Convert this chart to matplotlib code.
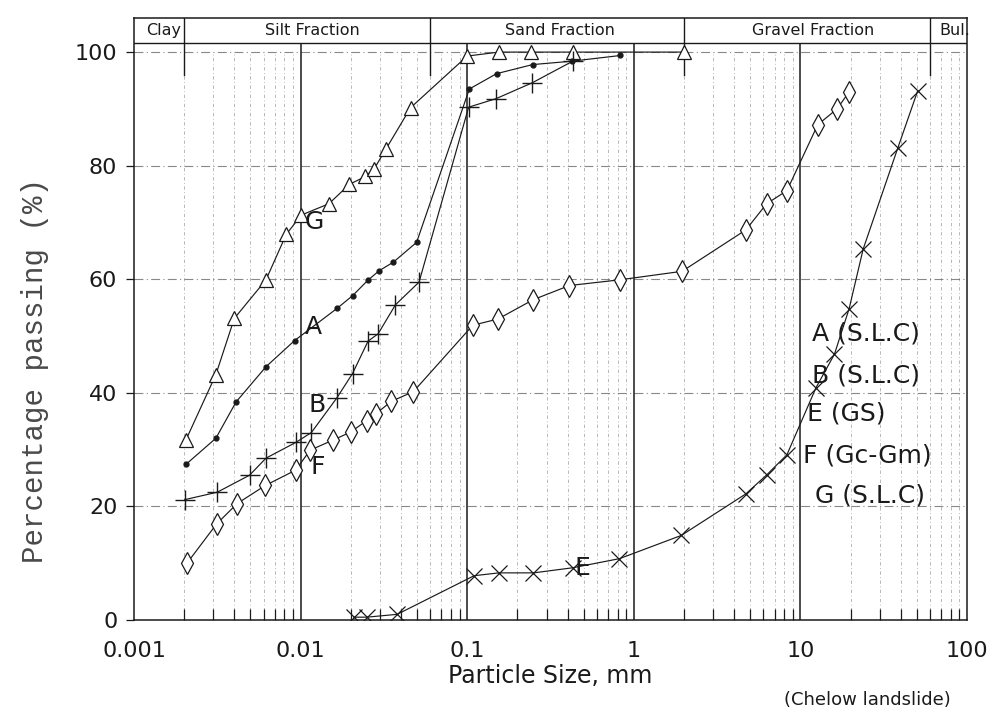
"""
Grain size distribution curves - Chelow landslide samples (A, B, E, F, G)
"""
import numpy as np
import matplotlib
matplotlib.use("Agg")
import matplotlib.pyplot as plt
from matplotlib.ticker import FixedLocator, NullFormatter

# ─── Data (particle size in mm, percentage passing) ─────────────────────────
g_size = [0.00205, 0.0031, 0.0040, 0.0062, 0.0082, 0.0101, 0.0148, 0.0196,
          0.0245, 0.0277, 0.0325, 0.0457, 0.100, 0.155, 0.24, 0.43, 2.0]
g_pass = [31.7, 43.2, 53.1, 59.9, 67.9, 71.3, 73.3, 76.7,
          78.1, 79.5, 82.9, 90.2, 99.3, 100, 100, 100, 100]

a_size = [0.00205, 0.0031, 0.0041, 0.0062, 0.0092, 0.0166, 0.0205, 0.0253,
          0.0296, 0.036, 0.0497, 0.103, 0.15, 0.247, 0.425, 0.83]
a_pass = [27.4, 32.0, 38.4, 44.6, 49.2, 54.9, 57.1, 59.8,
          61.5, 63.0, 66.5, 93.5, 96.2, 97.8, 98.4, 99.4]

b_size = [0.00202, 0.00316, 0.00494, 0.0062, 0.0094, 0.0116, 0.0165, 0.0205,
          0.0254, 0.0292, 0.0371, 0.0514, 0.102, 0.149, 0.246, 0.43]
b_pass = [21.2, 22.5, 25.5, 28.5, 31.3, 33.0, 39.1, 43.4,
          49.1, 50.4, 55.5, 59.5, 90.3, 91.8, 94.6, 98.4]

e_size = [0.021, 0.025, 0.038, 0.11, 0.155, 0.25, 0.43, 0.82, 1.93,
          4.7, 6.3, 8.3, 12.4, 16.0, 19.6, 23.8, 38.4, 50.6]
e_pass = [0.5, 0.5, 1.0, 7.8, 8.3, 8.3, 9.2, 10.8, 14.9,
          22.2, 25.6, 29.1, 40.9, 46.8, 54.8, 65.3, 83.1, 93.2]

f_size = [0.00208, 0.00313, 0.00416, 0.00615, 0.00935, 0.0114, 0.0157, 0.020,
          0.0249, 0.0283, 0.035, 0.0475, 0.108, 0.153, 0.249, 0.411, 0.824,
          1.95, 4.71, 6.27, 8.3, 12.7, 16.6, 19.5]
f_pass = [10.0, 16.9, 20.5, 23.7, 26.4, 29.9, 31.7, 33.1,
          35.1, 36.3, 38.5, 40.2, 51.9, 53.0, 56.4, 58.9, 59.9,
          61.4, 68.7, 73.3, 75.6, 87.2, 90.0, 92.9]

fraction_bounds = [0.002, 0.06, 2, 60]
fraction_names = ["Clay", "Silt Fraction", "Sand Fraction", "Gravel Fraction", "Bul."]
fraction_pos = [0.0015, 0.0118, 0.36, 12, 85]

x_ticks = [0.001, 0.01, 0.1, 1, 10, 100]
x_labels = ["0.001", "0.01", "0.1", "1", "10", "100"]
y_ticks = [0, 20, 40, 60, 80, 100]

legend_rows = ["A (S.L.C)", "B (S.L.C)", "E (GS)", "F (Gc-Gm)", "G (S.L.C)"]

INK = "#1a1a1a"
GRID = "#6a6a6a"

fig = plt.figure(figsize=(9.91, 7.12), dpi=100, facecolor="white")
ax = fig.add_axes([0.1352, 0.1292, 0.8406, 0.8455])
ax.set_xscale("log")
ax.set_xlim(0.001, 100)
ax.set_ylim(0, 106)

# ─── Grid ───────────────────────────────────────────────────────────────────
minors = [m * 10.0 ** e for e in range(-3, 2) for m in range(2, 10)]
for xm in minors:
    ax.plot([xm, xm], [0, 100], color=GRID, lw=0.6, ls=(0, (4, 3, 1, 3)), alpha=0.55, zorder=1)
for xd in x_ticks[1:-1]:
    ax.plot([xd, xd], [0, 101.5], color=INK, lw=1.1, zorder=2)
for yv in y_ticks[1:]:
    ax.plot([0.001, 100], [yv, yv], color=GRID, lw=0.8, ls=(0, (8, 3, 1, 3)), alpha=0.8, zorder=1)

# ─── Fraction header ────────────────────────────────────────────────────────
ax.plot([0.001, 100], [101.6, 101.6], color=INK, lw=1.0, zorder=3)
for xb in fraction_bounds:
    ax.plot([xb, xb], [96, 106], color=INK, lw=1.0, zorder=3)
for name, xp in zip(fraction_names, fraction_pos):
    ax.text(xp, 103.8, name, ha="center", va="center", fontsize=11.5,
            color=INK, family="DejaVu Sans")

# ─── Curves ─────────────────────────────────────────────────────────────────
kw = dict(color=INK, lw=0.85, zorder=4)
ax.plot(g_size, g_pass, marker="^", ms=10, mfc="white", mec=INK, mew=0.9, **kw)
ax.plot(a_size, a_pass, marker="o", ms=3.5, mfc=INK, mec=INK, **kw)
ax.plot(b_size, b_pass, marker="+", ms=14, mew=1.0, **kw)
ax.plot(e_size, e_pass, marker="x", ms=11, mew=0.9, **kw)
ax.plot(f_size, f_pass, marker="d", ms=11, mfc="white", mec=INK, mew=0.9, **kw)

# curve labels
for lab, xp, yp in [("G", 0.0121, 70.0), ("A", 0.0119, 51.6), ("B", 0.0125, 37.9),
                    ("F", 0.0126, 27.0), ("E", 0.49, 9.2)]:
    ax.text(xp, yp, lab, ha="center", va="center", fontsize=18, color=INK, zorder=5)

# ─── Axes styling ───────────────────────────────────────────────────────────
ax.xaxis.set_major_locator(FixedLocator(x_ticks))
ax.set_xticklabels(x_labels)
ax.xaxis.set_minor_locator(FixedLocator(minors))
ax.xaxis.set_minor_formatter(NullFormatter())
ax.tick_params(axis="x", which="major", length=0, pad=15, labelsize=16, colors=INK)
ax.tick_params(axis="x", which="minor", direction="in", length=8, width=0.9, color=INK)
ax.set_yticks(y_ticks)
ax.tick_params(axis="y", direction="out", length=6, width=0.9, pad=6, labelsize=16, colors=INK)
for spine in ax.spines.values():
    spine.set_edgecolor(INK)
    spine.set_linewidth(1.1)

ax.set_xlabel("Particle Size, mm", fontsize=17, color=INK, labelpad=2)
fig.text(0.035, 0.48, "Percentage passing (%)", rotation=90, ha="center", va="center",
         fontsize=21, family="Liberation Mono", color="#4a4a4a")
fig.text(0.875, 0.017, "(Chelow landslide)", ha="center", va="center",
         fontsize=13, color=INK)

# legend block on the right
leg_x = [812, 812, 807, 803, 815]
leg_y = [333, 375, 413, 455, 495]
for txt, lx, ly in zip(legend_rows, leg_x, leg_y):
    fig.text(lx / 991, 1 - ly / 712, txt, ha="left", va="center", fontsize=18, color=INK)

fig.savefig("out.png", dpi=100, facecolor="white")
